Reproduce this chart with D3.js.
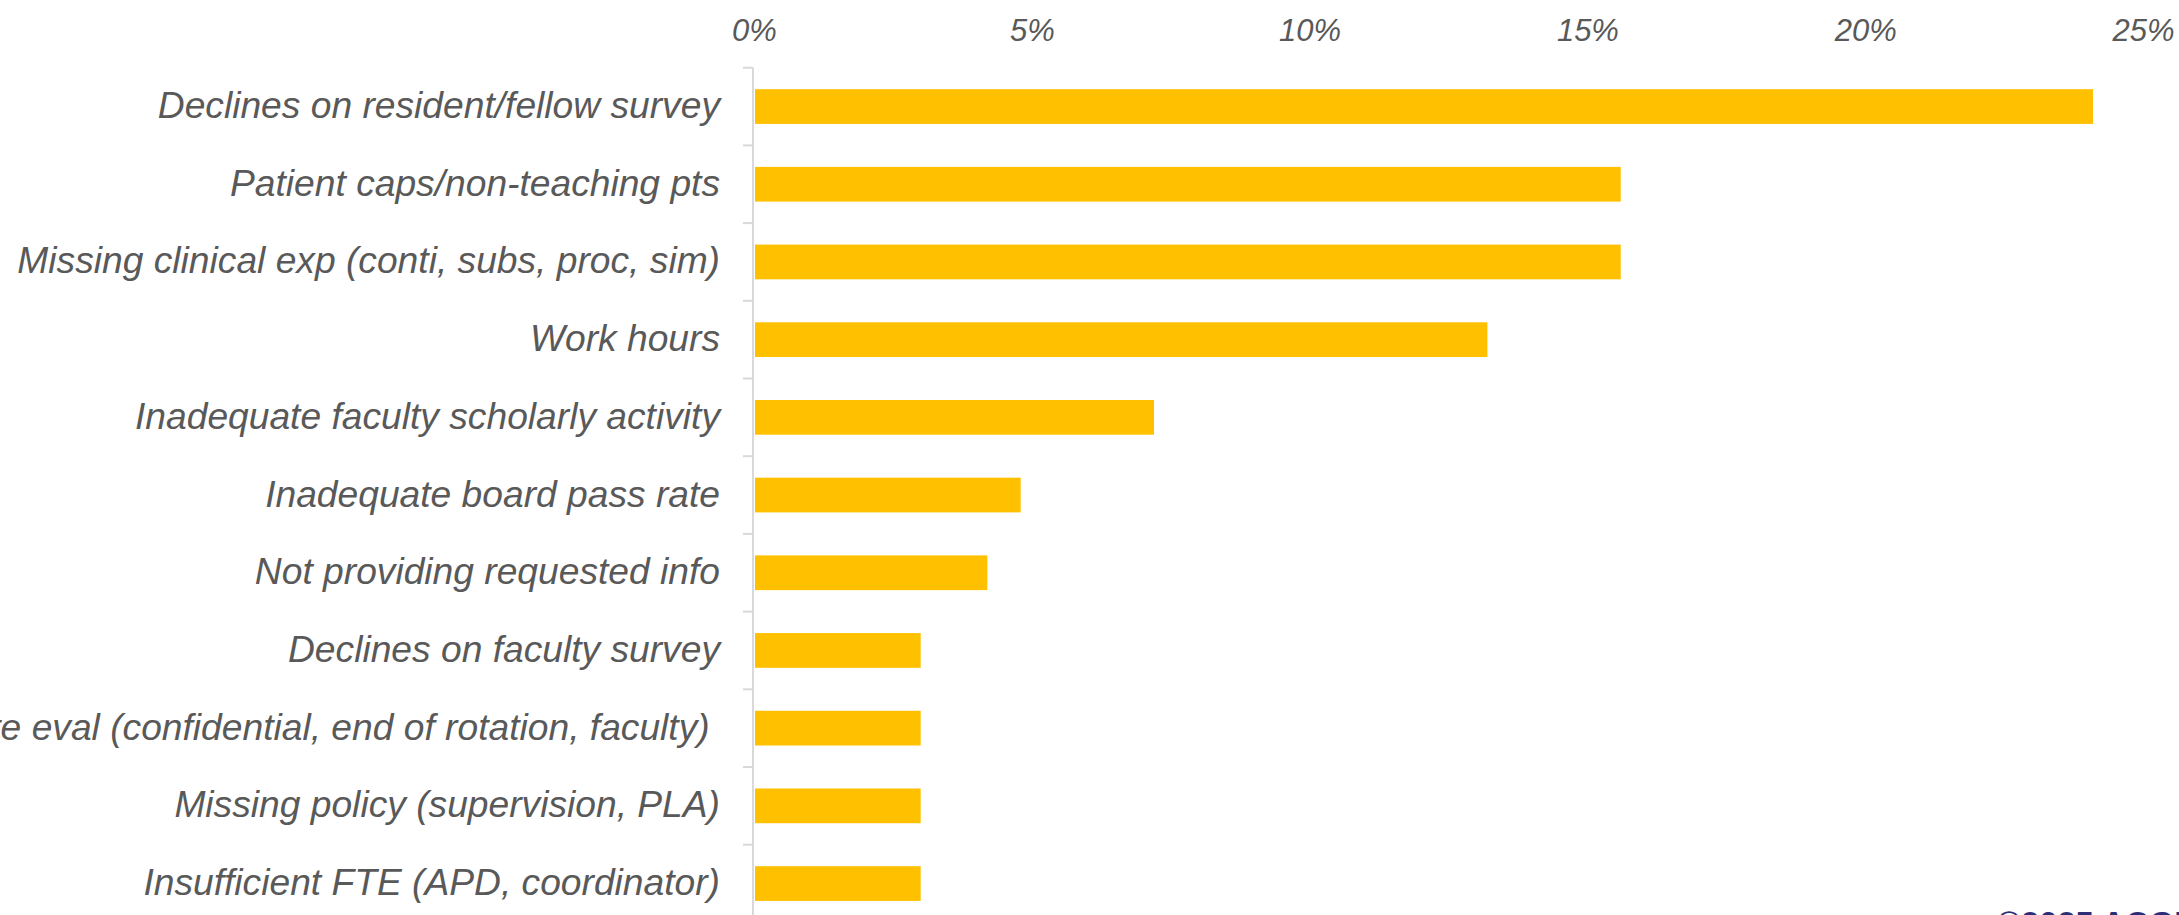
<!DOCTYPE html>
<html>
<head>
<meta charset="utf-8">
<script src="https://cdn.jsdelivr.net/npm/d3@7"></script>
<style>
  html, body { margin: 0; padding: 0; background: #ffffff; overflow: hidden; }
  svg { display: block; }
  text { font-family: "Liberation Sans", Arial, sans-serif; }
</style>
</head>
<body>
<svg id="chart" width="2179" height="915"></svg>
<script>
// Most frequent citation areas (share of all citations, %)
const categories = [
  "Declines on resident/fellow survey",
  "Patient caps/non-teaching pts",
  "Missing clinical exp (conti, subs, proc, sim)",
  "Work hours",
  "Inadequate faculty scholarly activity",
  "Inadequate board pass rate",
  "Not providing requested info",
  "Declines on faculty survey",
  "Inadequate eval (confidential, end of rotation, faculty) ",
  "Missing policy (supervision, PLA)",
  "Insufficient FTE (APD, coordinator)"
];
const values = [24.1, 15.6, 15.6, 13.2, 7.2, 4.8, 4.2, 3.0, 3.0, 3.0, 3.0];
const tickValues = [0, 5, 10, 15, 20, 25];
const tickLabels = ["0%", "5%", "10%", "15%", "20%", "25%"];

const svg = d3.select("#chart");

const x = d3.scaleLinear().domain([0, 25]).range([754, 2143]);
const y = d3.scaleBand()
  .domain(categories)
  .range([67.7, 67.7 + 77.7 * categories.length])
  .paddingInner(0.553)
  .paddingOuter(0.2765);

// value axis along the top: labels only
const xAxis = d3.axisTop(x)
  .tickValues(tickValues)
  .tickFormat((d, i) => tickLabels[i])
  .tickSize(0)
  .tickPadding(0);
const gx = svg.append("g")
  .attr("transform", "translate(0,41)")
  .call(xAxis);
gx.select(".domain").remove();
gx.selectAll("text")
  .attr("dy", "0em")
  .attr("font-size", 31)
  .attr("font-style", "italic")
  .attr("font-family", "'Liberation Sans', Arial, sans-serif")
  .attr("fill", "#595959");

// bars
svg.append("g")
  .selectAll("rect")
  .data(values)
  .join("rect")
  .attr("x", x(0) + 1)
  .attr("y", (d, i) => y(categories[i]))
  .attr("width", d => x(d) - x(0) - 1)
  .attr("height", y.bandwidth())
  .attr("fill", "#FFC000");

// category axis on the left
const yAxis = d3.axisLeft(y).tickSize(0).tickPadding(34);
const gy = svg.append("g")
  .attr("transform", `translate(${x(0)},0)`)
  .call(yAxis);
gy.select(".domain").remove();
gy.selectAll("text")
  .attr("dy", "0.31em")
  .attr("font-size", 37.2)
  .attr("font-style", "italic")
  .attr("font-family", "'Liberation Sans', Arial, sans-serif")
  .attr("fill", "#595959")
  .style("white-space", "pre");

// axis line and band-boundary ticks
const y0 = y.range()[0];
const step = y.step();
const bounds = d3.range(categories.length + 1).map(i => y0 + i * step);
const axisG = svg.append("g").attr("stroke", "#d9d9d9").attr("stroke-width", 2);
axisG.append("line")
  .attr("x1", x(0) - 1).attr("x2", x(0) - 1)
  .attr("y1", y0).attr("y2", 930);
axisG.selectAll("line.tick")
  .data(bounds)
  .join("line")
  .attr("class", "tick")
  .attr("x1", x(0) - 11).attr("x2", x(0) - 1)
  .attr("y1", d => d).attr("y2", d => d);

// footer credit
svg.append("text")
  .attr("x", 1997)
  .attr("y", 935)
  .attr("font-size", 32.7)
  .attr("font-weight", "bold")
  .attr("fill", "#2e2d78")
  .text("©2025 ACGME");
</script>
</body>
</html>
